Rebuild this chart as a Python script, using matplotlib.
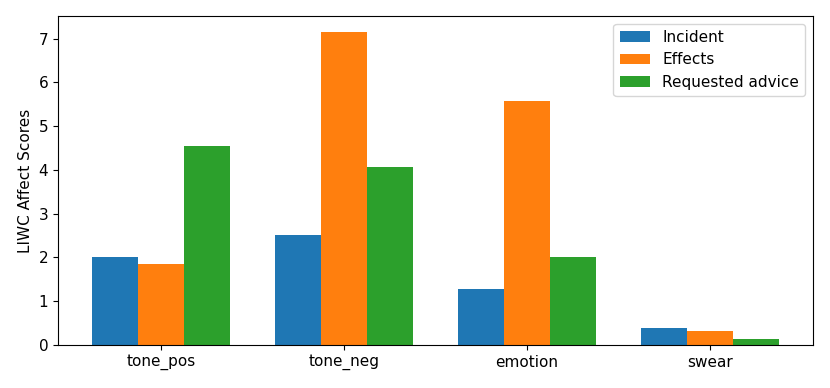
import matplotlib.pyplot as plt
import numpy as np

categories = ['tone_pos', 'tone_neg', 'emotion', 'swear']
incident = [2.01, 2.51, 1.28, 0.40]
effects = [1.84, 7.16, 5.57, 0.33]
requested = [4.54, 4.06, 2.01, 0.13]
series_names = ['Incident', 'Effects', 'Requested advice']

plt.rcParams['font.size'] = 11

fig = plt.figure(figsize=(8.3, 3.88), dpi=100)
ax = fig.add_axes([0.0699, 0.1108, 0.9096, 0.848])

x = np.arange(len(categories))
w = 0.25
ax.bar(x - w, incident, w, label=series_names[0])
ax.bar(x, effects, w, label=series_names[1])
ax.bar(x + w, requested, w, label=series_names[2])

ax.set_xticks(x)
ax.set_xticklabels(categories)
ax.set_ylabel('LIWC Affect Scores')
ax.legend(loc='upper right')

fig.savefig('out.png', dpi=100)
